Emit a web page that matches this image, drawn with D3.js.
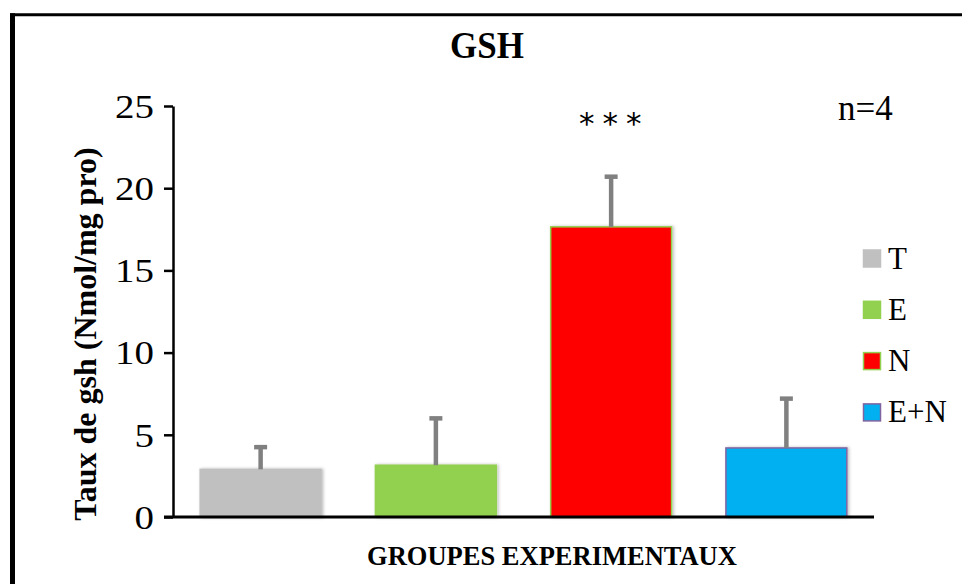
<!DOCTYPE html>
<html lang="fr">
<head>
<meta charset="utf-8">
<title>GSH</title>
<script src="https://d3js.org/d3.v7.min.js"></script>
<style>
  html, body { margin: 0; padding: 0; background: #fff; }
  svg { display: block; font-family: "Liberation Serif", "Times New Roman", serif; }
</style>
</head>
<body>
<div id="chart"></div>
<script>
// data
var groups = ["T", "E", "N", "E+N"];
var values = [2.9, 3.15, 17.65, 4.2];
var errors = [1.35, 2.85, 3.05, 3.0];
var fills = ["#c0c0c0", "#92d050", "#ff0000", "#00b0f0"];
var strokes = ["#c0c0c0", "#92d050", "#92d050", "#8064a2"];
var yTicks = [0, 5, 10, 15, 20, 25];

var width = 962, height = 584;
var svg = d3.select("#chart").append("svg")
  .attr("width", width).attr("height", height);

var defs = svg.append("defs");
var shadow = defs.append("filter").attr("id", "shadow")
  .attr("x", "-10%").attr("y", "-10%").attr("width", "130%").attr("height", "130%");
shadow.append("feDropShadow").attr("dx", 1.5).attr("dy", 0).attr("stdDeviation", 1.5)
  .attr("flood-color", "#000").attr("flood-opacity", 0.25);

// outer frame (only left and top edges visible)
svg.append("line").attr("x1", 12.5).attr("x2", 12.5).attr("y1", 13.3).attr("y2", height)
  .attr("stroke", "#000").attr("stroke-width", 5);
svg.append("line").attr("x1", 10).attr("x2", width).attr("y1", 14.7).attr("y2", 14.7)
  .attr("stroke", "#000").attr("stroke-width", 3);

var x = d3.scaleBand().domain(groups).range([173, 874]).paddingInner(0.31).paddingOuter(0.155);
var y = d3.scaleLinear().domain([0, 25]).range([517, 106]);

// bars
var bars = svg.append("g");
bars.selectAll("rect").data(groups).enter().append("rect")
  .attr("x", function(d) { return x(d); })
  .attr("y", function(d, i) { return y(values[i]); })
  .attr("width", x.bandwidth())
  .attr("height", function(d, i) { return y(0) - y(values[i]); })
  .attr("fill", function(d, i) { return fills[i]; })
  .attr("stroke", function(d, i) { return strokes[i]; })
  .attr("stroke-width", 1.5)
  .attr("filter", "url(#shadow)");

// error bars (upper only)
var err = svg.append("g").attr("stroke", "#808080").attr("stroke-width", 4.5);
groups.forEach(function(g, i) {
  var cx = x(g) + x.bandwidth() / 2;
  err.append("line").attr("x1", cx).attr("x2", cx)
    .attr("y1", y(values[i])).attr("y2", y(values[i] + errors[i]));
  err.append("line").attr("x1", cx - 6.5).attr("x2", cx + 6.5)
    .attr("y1", y(values[i] + errors[i])).attr("y2", y(values[i] + errors[i]));
});

// axes
var sx = 1.18;
var yAxis = svg.append("g").attr("transform", "translate(173,0)")
  .call(d3.axisLeft(y).tickValues(yTicks).tickSize(9).tickPadding(9).tickSizeOuter(0));
yAxis.select(".domain").attr("stroke", "#000").attr("stroke-width", 2.5);
yAxis.selectAll(".tick line").attr("stroke", "#000").attr("stroke-width", 2.5);
yAxis.selectAll(".tick text").attr("font-family", "Liberation Serif").attr("font-size", 33)
  .attr("fill", "#000").attr("dy", "0.34em")
  .attr("x", -19 / sx).attr("transform", "scale(" + sx + ",1)");

svg.append("line").attr("x1", 164).attr("x2", 874).attr("y1", y(0)).attr("y2", y(0))
  .attr("stroke", "#000").attr("stroke-width", 3);

// labels
svg.append("text").attr("transform", "translate(487,58) scale(0.92,1)").attr("text-anchor", "middle")
  .attr("font-size", 38).attr("font-weight", "bold").text("GSH");

svg.append("text").attr("transform", "translate(96,334) rotate(-90)")
  .attr("text-anchor", "middle").attr("font-size", 32).attr("font-weight", "bold")
  .text("Taux de gsh (Nmol/mg pro)");

svg.append("text").attr("x", 552).attr("y", 565).attr("text-anchor", "middle")
  .attr("font-size", 26.5).attr("font-weight", "bold").text("GROUPES EXPERIMENTAUX");

svg.append("text").attr("x", 838).attr("y", 120).attr("font-size", 35).text("n=4");

svg.append("text").attr("x", x("N") + x.bandwidth() / 2 + 3).attr("y", 134)
  .attr("text-anchor", "middle").attr("font-family", "DejaVu Sans").attr("font-size", 31)
  .attr("letter-spacing", 8).text("***");

// legend
var legend = svg.append("g");
groups.forEach(function(g, i) {
  var ly = 258.5 + i * 51.3;
  legend.append("rect").attr("x", 863.5).attr("y", ly - 8.5).attr("width", 17).attr("height", 17)
    .attr("fill", fills[i]).attr("stroke", strokes[i]).attr("stroke-width", 1.5);
  legend.append("text").attr("x", 888).attr("y", ly + 10).attr("font-size", 31).text(g);
});
</script>
</body>
</html>
